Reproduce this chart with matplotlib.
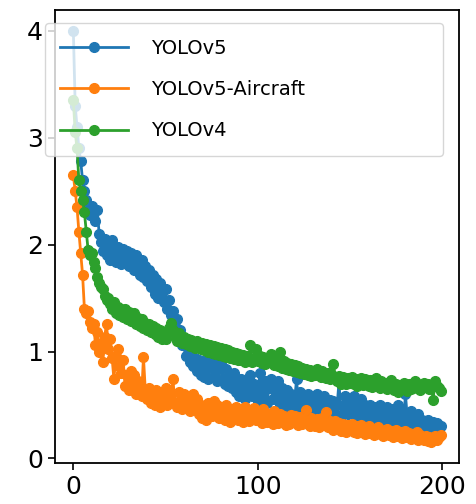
import matplotlib
matplotlib.use('Agg')
import matplotlib.pyplot as plt

labels = ['YOLOv5', 'YOLOv5-Aircraft', 'YOLOv4']

yolov5 = [
    4.00, 3.30, 3.10, 2.90, 2.78, 2.60, 2.50, 2.42, 2.35, 2.28,
    2.36, 2.30, 2.22, 2.32, 2.10, 2.02, 1.94, 2.05, 1.90, 1.98,
    1.86, 2.04, 1.92, 1.84, 1.98, 1.88, 1.82, 1.96, 1.86, 1.94,
    1.80, 1.92, 1.85, 1.76, 1.90, 1.78, 1.72, 1.86, 1.70, 1.80,
    1.66, 1.76, 1.60, 1.72, 1.54, 1.68, 1.50, 1.64, 1.56, 1.46,
    1.58, 1.40, 1.48, 1.34, 1.38, 1.24, 1.30, 1.16, 1.20, 1.06,
    1.10, 0.96, 1.02, 0.90, 0.98, 0.86, 0.94, 0.82, 0.92, 0.78,
    0.88, 0.76, 0.92, 0.74, 0.86, 0.96, 0.78, 0.88, 0.72, 0.84,
    0.90, 0.74, 0.70, 0.84, 0.68, 0.78, 0.66, 0.80, 0.62, 0.72,
    0.58, 0.74, 0.64, 0.56, 0.72, 0.60, 0.78, 0.58, 0.70, 0.62,
    0.54, 0.80, 0.64, 0.56, 0.72, 0.52, 0.66, 0.74, 0.56, 0.70,
    0.60, 0.72, 0.50, 0.66, 0.58, 0.48, 0.64, 0.52, 0.60, 0.46,
    0.56, 0.74, 0.50, 0.62, 0.46, 0.58, 0.44, 0.60, 0.50, 0.42,
    0.56, 0.48, 0.60, 0.42, 0.54, 0.46, 0.58, 0.48, 0.40, 0.55,
    0.44, 0.54, 0.42, 0.50, 0.72, 0.40, 0.50, 0.58, 0.46, 0.42,
    0.56, 0.46, 0.58, 0.40, 0.52, 0.44, 0.56, 0.38, 0.50, 0.42,
    0.36, 0.50, 0.40, 0.34, 0.48, 0.38, 0.50, 0.33, 0.46, 0.36,
    0.48, 0.40, 0.34, 0.46, 0.38, 0.32, 0.50, 0.36, 0.44, 0.34,
    0.60, 0.38, 0.32, 0.44, 0.30, 0.40, 0.32, 0.42, 0.30, 0.36,
    0.31, 0.28, 0.36, 0.30, 0.27, 0.34, 0.29, 0.33, 0.27, 0.30,
]

yolov5_aircraft = [
    2.65, 2.50, 2.35, 2.12, 1.92, 1.72, 1.40, 1.36, 1.38, 1.28,
    1.22, 1.26, 1.06, 1.18, 1.00, 1.08, 0.90, 1.14, 1.26, 1.02,
    1.12, 0.94, 0.74, 0.96, 1.02, 0.86, 0.80, 0.92, 0.68, 0.78,
    0.64, 0.82, 0.70, 0.78, 0.60, 0.72, 0.66, 0.58, 0.95, 0.64,
    0.56, 0.66, 0.52, 0.62, 0.50, 0.64, 0.56, 0.48, 0.62, 0.54,
    0.66, 0.50, 0.60, 0.56, 0.74, 0.52, 0.48, 0.62, 0.54, 0.46,
    0.60, 0.50, 0.58, 0.44, 0.54, 0.60, 0.48, 0.56, 0.42, 0.50,
    0.38, 0.46, 0.36, 0.52, 0.44, 0.40, 0.54, 0.42, 0.50, 0.38,
    0.48, 0.40, 0.36, 0.50, 0.38, 0.34, 0.46, 0.38, 0.48, 0.36,
    0.46, 0.38, 0.34, 0.48, 0.40, 0.35, 0.45, 0.38, 0.47, 0.36,
    0.44, 0.36, 0.33, 0.46, 0.38, 0.34, 0.42, 0.36, 0.32, 0.44,
    0.37, 0.33, 0.42, 0.34, 0.40, 0.31, 0.38, 0.32, 0.41, 0.34,
    0.40, 0.35, 0.31, 0.39, 0.32, 0.37, 0.45, 0.33, 0.30, 0.38,
    0.34, 0.30, 0.37, 0.29, 0.35, 0.38, 0.31, 0.43, 0.29, 0.35,
    0.31, 0.27, 0.35, 0.29, 0.33, 0.26, 0.32, 0.28, 0.25, 0.31,
    0.27, 0.32, 0.25, 0.30, 0.24, 0.29, 0.31, 0.25, 0.23, 0.28,
    0.30, 0.24, 0.28, 0.22, 0.27, 0.29, 0.23, 0.27, 0.21, 0.26,
    0.28, 0.22, 0.26, 0.20, 0.25, 0.27, 0.21, 0.25, 0.19, 0.24,
    0.26, 0.20, 0.24, 0.18, 0.23, 0.20, 0.25, 0.17, 0.22, 0.19,
    0.17, 0.21, 0.16, 0.20, 0.15, 0.19, 0.21, 0.17, 0.20, 0.22,
]

yolov4 = [
    3.35, 3.05, 2.90, 2.60, 2.50, 2.42, 2.30, 2.12, 1.95, 1.90,
    1.92, 1.84, 1.78, 1.70, 1.64, 1.60, 1.58, 1.52, 1.48, 1.50,
    1.44, 1.40, 1.46, 1.36, 1.42, 1.34, 1.40, 1.32, 1.40, 1.30,
    1.37, 1.29, 1.33, 1.36, 1.26, 1.31, 1.24, 1.30, 1.22, 1.27,
    1.20, 1.26, 1.18, 1.24, 1.16, 1.22, 1.14, 1.20, 1.12, 1.17,
    1.12, 1.18, 1.22, 1.27, 1.20, 1.15, 1.10, 1.17, 1.12, 1.08,
    1.14, 1.07, 1.12, 1.05, 1.11, 1.06, 1.03, 1.10, 1.04, 1.02,
    1.08, 1.01, 1.07, 1.00, 1.06, 0.99, 1.05, 0.98, 1.04, 0.97,
    1.03, 0.96, 1.02, 0.95, 1.01, 0.94, 1.00, 0.93, 0.99, 0.92,
    0.98, 0.92, 0.97, 0.90, 0.96, 0.93, 1.06, 0.90, 0.94, 1.02,
    0.91, 0.96, 0.89, 0.95, 0.88, 0.94, 0.90, 0.98, 0.91, 0.87,
    0.93, 0.86, 1.00, 0.85, 0.91, 0.84, 0.89, 0.83, 0.88, 0.82,
    0.87, 0.81, 0.86, 0.80, 0.85, 0.79, 0.84, 0.78, 0.83, 0.77,
    0.82, 0.78, 0.84, 0.79, 0.76, 0.82, 0.77, 0.75, 0.80, 0.74,
    0.78, 0.88, 0.76, 0.72, 0.77, 0.70, 0.76, 0.73, 0.70, 0.75,
    0.71, 0.76, 0.70, 0.74, 0.68, 0.73, 0.75, 0.69, 0.74, 0.70,
    0.68, 0.73, 0.67, 0.72, 0.75, 0.69, 0.66, 0.72, 0.68, 0.71,
    0.65, 0.70, 0.73, 0.67, 0.64, 0.70, 0.62, 0.69, 0.66, 0.71,
    0.66, 0.63, 0.70, 0.65, 0.69, 0.72, 0.66, 0.70, 0.64, 0.69,
    0.71, 0.67, 0.70, 0.65, 0.69, 0.55, 0.72, 0.68, 0.66, 0.63,
]

epochs = list(range(len(yolov5)))

fig = plt.figure(figsize=(4.76, 5.04), dpi=100)
ax = fig.add_axes([0.1155, 0.0813, 0.8485, 0.8987])

for vals, lab in zip([yolov5, yolov5_aircraft, yolov4], labels):
    ax.plot(epochs, vals, marker='o', markersize=7, linewidth=2, label=lab)

ax.set_xticks([0, 100, 200])
ax.set_yticks([0, 1, 2, 3, 4])
ax.tick_params(labelsize=18, length=5, width=1.2)
for sp in ax.spines.values():
    sp.set_linewidth(1.3)

ax.legend(loc='upper left', bbox_to_anchor=(-0.025, 0.68, 0.985, 0.291),
          mode='expand', borderaxespad=0, prop={'family': 'DejaVu Sans', 'size': 14},
          handlelength=3.45, handletextpad=1.2, labelspacing=1.15, borderpad=0.8)

fig.savefig('out.png', dpi=100)
